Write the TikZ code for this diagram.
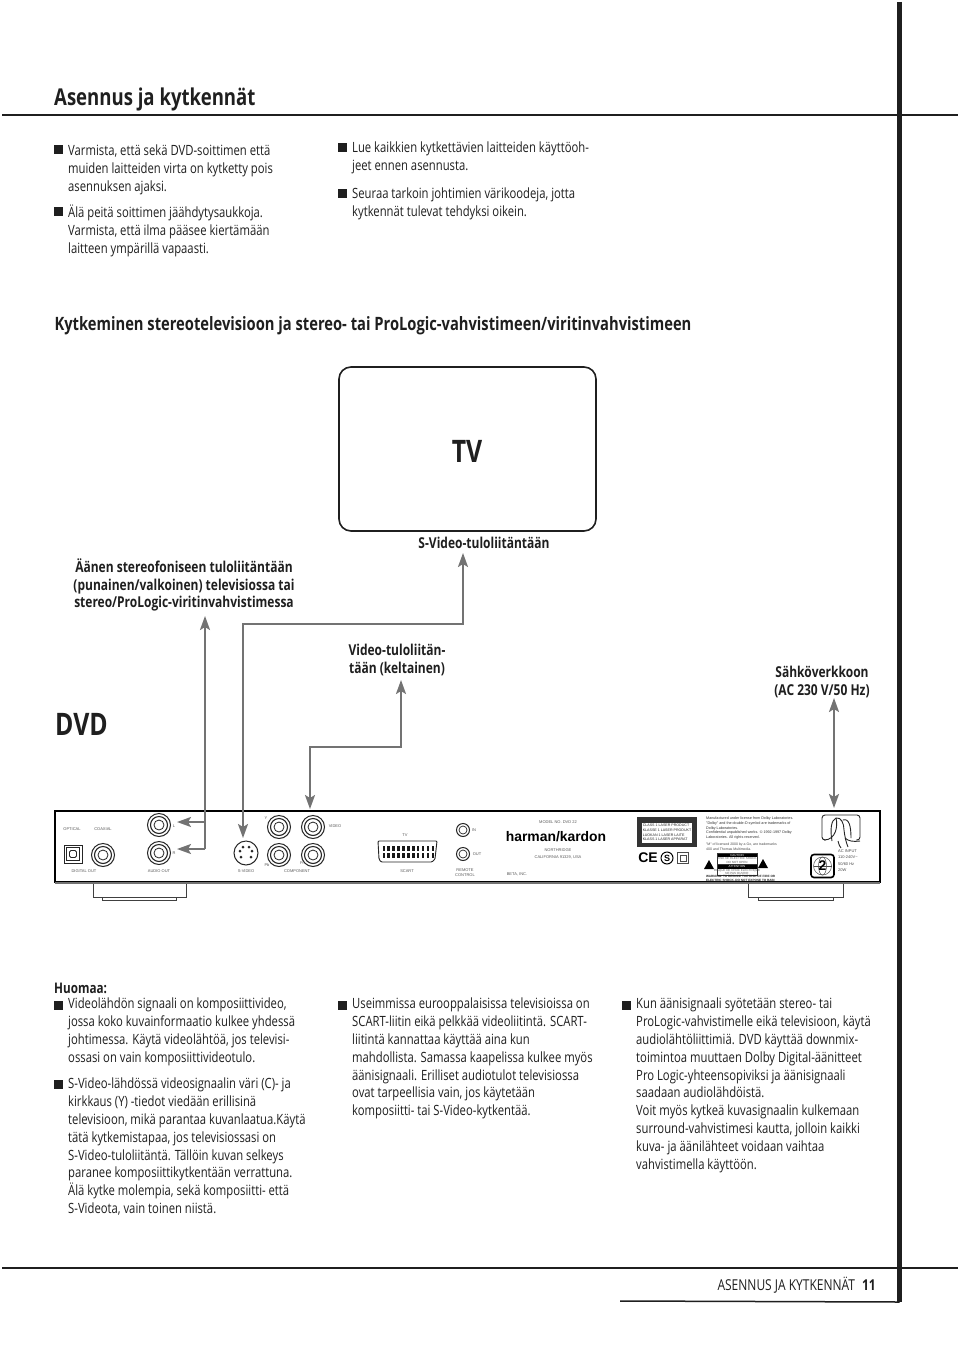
\documentclass[tikz,border=0pt]{standalone}
\usepackage{fontspec}
\setmainfont{Open Sans}[FakeStretch=0.8]
\newfontfamily\hkfont{Liberation Sans}
\usetikzlibrary{arrows.meta}
\definecolor{ink}{gray}{0.12}
\definecolor{conn}{gray}{0.45}
\tikzset{
  bodytxt/.style={anchor=north west,inner sep=0pt,align=left,text=ink,font=\fontsize{14.1}{17.8}\selectfont},
  labeltxt/.style={anchor=center,inner sep=0pt,align=center,text=ink,font=\bfseries\fontsize{15}{17.6}\selectfont},
  bullet/.style={rectangle,fill=ink,minimum size=9pt,inner sep=0pt},
  rule/.style={draw=ink,line width=1.5pt},
  wire/.style={draw=conn,line width=2pt,line join=miter},
  tip/.style={-{Stealth[length=14pt,width=10pt,inset=3pt]}},
  bitip/.style={{Stealth[length=14pt,width=10pt,inset=3pt]}-{Stealth[length=14pt,width=10pt,inset=3pt]}},
  tiny/.style={inner sep=0pt,align=center,text=black!65,font=\hkfont\fontsize{4}{5}\selectfont},
  jackbase/.style={circle,draw=black!85,line width=1pt,inner sep=0pt,fill=white},
}
\newcommand{\rcajack}[3]{%
  \node[jackbase,minimum size=23pt] (#1) at (#2,#3) {};
  \draw[black!85,line width=1.1pt] (#1) circle[radius=8.5pt];
  \draw[black!85,line width=0.8pt] (#1) circle[radius=5pt];
}
\begin{document}
\begin{tikzpicture}[x=1pt,y=-1pt]
\useasboundingbox (0,0) rectangle (960,1356);
\fill[white] (0,0) rectangle (960,1356);

% page furniture
\coordinate (ruleTopL) at (2,115);
\coordinate (ruleTopR) at (958,115);
\coordinate (ruleBotL) at (2,1268);
\coordinate (ruleBotR) at (958,1268);
\coordinate (footL) at (620,1301);
\coordinate (barT) at (899.5,2);
\coordinate (barB) at (899.5,1302);
\draw[rule] (ruleTopL) -- (ruleTopR);
\draw[rule] (ruleBotL) -- (ruleBotR);
\draw[rule] (footL) -- (barB);
\draw[ink,line width=5pt] (barT) -- (barB);

\node[anchor=west,inner sep=0pt,text=ink,font=\bfseries\fontsize{23.2}{26}\selectfont] (title) at (54,99) {Asennus ja kytkennät};

% top text
\node[bullet] (b1) at (58.5,150) {};
\node[bodytxt] (t1) at (68,145) {Varmista, että sekä DVD-soittimen että\\muiden laitteiden virta on kytketty pois\\asennuksen ajaksi.};
\node[bullet] (b2) at (58.5,212) {};
\node[bodytxt] (t2) at (68,205) {Älä peitä soittimen jäähdytysaukkoja.\\Varmista, että ilma pääsee kiertämään\\laitteen ympärillä vapaasti.};
\node[bullet] (b3) at (342.5,148) {};
\node[bodytxt] (t3) at (352,142) {Lue kaikkien kytkettävien laitteiden käyttöoh-\\jeet ennen asennusta.};
\node[bullet] (b4) at (342.5,194) {};
\node[bodytxt] (t4) at (352,188) {Seuraa tarkoin johtimien värikoodeja, jotta\\kytkennät tulevat tehdyksi oikein.};

\node[inner sep=0pt,text=ink,font=\bfseries\fontsize{18.4}{20}\selectfont] (heading) at (373,326) {Kytkeminen stereotelevisioon ja stereo- tai ProLogic-vahvistimeen/viritinvahvistimeen};

% TV
\draw[ink,line width=1.6pt,rounded corners=12pt] (339,367) rectangle (596,531);
\node[inner sep=0pt,text=ink,font=\bfseries\fontsize{31}{33}\selectfont] (tv) at (467,451) {TV};

% labels
\node[labeltxt] (lblS) at (484,543) {S-Video-tuloliitäntään};
\node[labeltxt] (lblA) at (184,585) {Äänen stereofoniseen tuloliitäntään\\(punainen/valkoinen) televisiossa tai\\stereo/ProLogic-viritinvahvistimessa};
\node[labeltxt] (lblV) at (397,660) {Video-tuloliitän-\\tään (keltainen)};
\node[labeltxt] (lblM) at (822,682) {Sähköverkkoon\\(AC 230 V/50 Hz)};
\node[anchor=west,inner sep=0pt,text=ink,font=\bfseries\fontsize{31}{33}\selectfont] (dvd) at (55,724) {DVD};

% panel feet and body
\draw[black!75,line width=0.8pt,fill=white] (93,882) -- (93,897) -- (186,897) -- (186,882);
\draw[black!75,line width=0.8pt] (102,897) -- (102,900) -- (176,900) -- (176,897);
\draw[black!75,line width=0.8pt,fill=white] (748,882) -- (748,897) -- (843,897) -- (843,882);
\draw[black!75,line width=0.8pt] (758,897) -- (758,900) -- (833,900) -- (833,897);
\node[draw=black,line width=1.5pt,fill=white,minimum width=825pt,minimum height=71pt,inner sep=0pt] (panel) at (467.5,846.5) {};
\draw[black!55,line width=2pt] (55,883) -- (880,883);

% jacks
\rcajack{jackL}{159}{825}
\rcajack{jackR}{159}{853}
\rcajack{jackC}{103}{855}
\rcajack{jackY}{279}{827}
\rcajack{jackVid}{313}{827}
\rcajack{jackPb}{279}{855}
\rcajack{jackPr}{313}{855}
% optical
\node[rectangle,draw=black!85,line width=1pt,minimum size=18pt,inner sep=0pt] (opt) at (73,854) {};
\node[rectangle,draw=black!85,line width=1.2pt,minimum size=13pt,inner sep=0pt] (optin) at (73,854) {};
\draw[black!85,line width=0.8pt,rounded corners=1.5pt] (69.5,850.5) rectangle (76.5,857.5);
% s-video
\node[jackbase,minimum size=24pt] (jackS) at (246,853) {};
\foreach \dx/\dy in {-6/-2,-3/-6,3/-6,6/-2,-5/4,5/4}{\fill[black!85] (246+\dx,853+\dy) circle[radius=1.5pt];}
% remote
\node[jackbase,minimum size=13pt] (jackIn) at (463,830) {};
\draw[black!85,line width=0.7pt] (jackIn) circle[radius=4pt];
\node[jackbase,minimum size=13pt] (jackOut) at (463,854) {};
\draw[black!85,line width=0.7pt] (jackOut) circle[radius=4pt];
% scart
\draw[black!85,line width=0.9pt,fill=white,rounded corners=1pt] (378,841) -- (437,841) -- (435,859) -- (432,862) -- (381,862) -- (379,859) -- cycle;
\foreach \i in {0,...,10}{
  \fill[black!90] (382.5+4.9*\i,845.5) rectangle +(2.6,5);
  \fill[black!90] (382.5+4.9*\i,853) rectangle +(2.6,5);
}

% panel tiny labels
\node[tiny] (p1) at (72,829) {OPTICAL};
\node[tiny] (p2) at (103,829) {COAXIAL};
\node[tiny] (p3) at (84,871) {DIGITAL OUT};
\node[tiny] (p4) at (159,871) {AUDIO OUT};
\node[tiny] (p5) at (174,826) {L};
\node[tiny] (p6) at (174,853) {R};
\node[tiny] (p7) at (246,871) {S-VIDEO};
\node[tiny] (p8) at (297,871) {COMPONENT};
\node[tiny] (p9) at (266,818) {Y};
\node[tiny] (p10) at (267,865) {Pb};
\node[tiny] (p11) at (302,863) {Pr};
\node[tiny] (p12) at (335,826) {VIDEO};
\node[tiny] (p13) at (405,835) {TV};
\node[tiny] (p14) at (407,871) {SCART};
\node[tiny] (p15) at (474,830) {IN};
\node[tiny] (p16) at (477,854) {OUT};
\node[tiny] (p17) at (465,873) {REMOTE\\CONTROL};
\node[tiny] (p18) at (558,822) {MODEL NO. DVD 22};
\node[inner sep=0pt,text=black,font=\hkfont\bfseries\fontsize{13.9}{16}\selectfont] (hk) at (556,837) {harman/kardon};
\node[tiny] (p19) at (558,850) {NORTHRIDGE};
\node[tiny] (p20) at (558,857) {CALIFORNIA 91329, USA};
\node[tiny] (p21) at (517,874) {BETA, INC.};

% laser label
\node[fill=black!80,minimum width=60pt,minimum height=30pt,inner sep=0pt] (laser) at (667,832) {};
\node[fill=white,minimum width=50pt,minimum height=20pt,inner sep=0pt,align=left,text=black!85,font=\hkfont\fontsize{3.6}{4.6}\selectfont] (lasertxt) at (667,832.5) {CLASS 1 LASER PRODUCT\\KLASSE 1 LASER PRODUKT\\LUOKAN 1 LASER LAITE\\KLASS 1 LASER APPARAT};
\node[inner sep=0pt,text=black,font=\hkfont\bfseries\fontsize{14}{15}\selectfont] (ce) at (648,858) {CE};
\node[circle,draw=black,line width=1pt,minimum size=12pt,inner sep=0pt,font=\hkfont\bfseries\fontsize{9}{10}\selectfont] (smark) at (667,858) {S};
\node[draw=black!70,line width=0.8pt,minimum size=11pt,inner sep=0pt] (dsq) at (683,858) {};
\node[draw=black!70,line width=0.7pt,minimum size=6pt,inner sep=0pt] (dsqi) at (683,858) {};

% dolby text
\node[anchor=north west,inner sep=0pt,align=left,text=black!80,font=\hkfont\fontsize{3.7}{4.7}\selectfont] (dolby) at (706,817) {Manufactured under license from Dolby Laboratories.\\"Dolby" and the double-D symbol are trademarks of\\Dolby Laboratories.\\Confidential unpublished works. © 1992-1997 Dolby\\Laboratories. All rights reserved.};
\node[anchor=north west,inner sep=0pt,align=left,text=black!70,font=\hkfont\fontsize{3.5}{4.6}\selectfont] (dolby2) at (706,843) {"M" of licensed 2000 by a Go, are trademarks\\400 and Thomas Multimedia.};
% caution
\fill[black] (709,860) -- (714,869) -- (704,869) -- cycle;
\fill[black] (763,859) -- (768,868) -- (758,868) -- cycle;
\node[fill=black,text=white,minimum width=40pt,minimum height=4pt,inner sep=0pt,font=\hkfont\fontsize{3}{3.5}\selectfont] (cau) at (737,855) {CAUTION};
\node[tiny,font=\hkfont\fontsize{3}{3.6}\selectfont] (cautxt) at (737,860.5) {RISK OF ELECTRIC SHOCK\\DO NOT OPEN};
\draw[black!80,line width=0.5pt] (717,853) rectangle (757,864);
\node[fill=black,text=white,minimum width=40pt,minimum height=4pt,inner sep=0pt,font=\hkfont\fontsize{3}{3.5}\selectfont] (att) at (737,866.5) {ATTENTION};
\node[tiny,font=\hkfont\fontsize{3}{3.6}\selectfont] (atttxt) at (737,872) {RISQUE DE CHOC ELECTRIQUE\\NE PAS OUVRIR};
\draw[black!80,line width=0.5pt] (717,864.5) rectangle (757,875);
\node[anchor=north west,inner sep=0pt,align=left,text=black!85,font=\hkfont\bfseries\fontsize{3.1}{4}\selectfont] (warn) at (706,875.3) {WARNING: TO REDUCE THE RISK OF FIRE OR\\ELECTRIC SHOCK, DO NOT EXPOSE TO RAIN};

% mains socket and cord
\draw[black!85,line width=0.9pt,fill=white,rounded corners=3pt] (822,815) rectangle (860,840);
\draw[white,line width=3pt] (826,840) -- (856,840);
\draw[black!85,line width=0.9pt] (832,841) .. controls (830,830) and (831,820) .. (836,818) .. controls (841,817) and (844,823) .. (844,830) .. controls (845,838) and (846,842) .. (848,847);
\draw[black!85,line width=0.9pt] (824,840) .. controls (836,840) and (838,826) .. (836,818);
\draw[black!85,line width=0.9pt] (843,820) .. controls (849,818) and (851,826) .. (851,838);
\draw[black!85,line width=0.9pt] (838,841) .. controls (839,845) and (840,847) .. (841,848);
\draw[black!85,line width=0.9pt] (845,838) .. controls (848,841) and (853,842) .. (860,841);
% region mark
\node[rectangle,draw=black,line width=1.6pt,rounded corners=3pt,minimum size=23pt,inner sep=0pt] (region) at (822.5,866) {};
\draw[black!70,line width=0.5pt] (region) circle[radius=9pt];
\draw[black!70,line width=0.5pt] (region) ellipse[x radius=4pt,y radius=9pt];
\draw[black!70,line width=0.5pt] (813.5,866) -- (831.5,866);
\node[inner sep=0pt,text=black,font=\hkfont\bfseries\fontsize{14}{15}\selectfont] (two) at (822.5,866) {2};
\node[anchor=north west,inner sep=0pt,align=left,text=black!70,font=\hkfont\fontsize{4}{6.6}\selectfont] (acin) at (838,849) {AC INPUT\\110-240V\textasciitilde\\50/60 Hz\\20W};

% connectors
\coordinate (sTop) at (463,553);
\coordinate (sK1) at (463,624);
\coordinate (sK2) at (243,624);
\coordinate (sEnd) at (243,838);
\draw[wire,bitip] (sEnd) -- (sK2) -- (sK1) -- (sTop);

\coordinate (aTop) at (205,616);
\coordinate (aJ1) at (205,822);
\coordinate (aJ2) at (205,849);
\coordinate (aL) at (177,822);
\coordinate (aR) at (177,849);
\draw[wire,tip] (aJ2) -- (aTop);
\draw[wire,tip] (aJ1) -- (aL);
\draw[wire,tip] (aJ2) -- (aR);

\coordinate (vTop) at (401,680);
\coordinate (vK1) at (401,747);
\coordinate (vK2) at (310,747);
\coordinate (vEnd) at (310,809);
\draw[wire,bitip] (vTop) -- (vK1) -- (vK2) -- (vEnd);

\coordinate (mTop) at (834,698);
\coordinate (mEnd) at (834,808);
\draw[wire,bitip] (mTop) -- (mEnd);

% bottom text
\node[anchor=west,inner sep=0pt,text=ink,font=\bfseries\fontsize{14.6}{17}\selectfont] (huom) at (54,988) {Huomaa:};
\node[bullet] (b5) at (58.5,1005) {};
\node[bodytxt] (t5) at (68,998) {Videolähdön signaali on komposiittivideo,\\jossa koko kuvainformaatio kulkee yhdessä\\johtimessa. Käytä videolähtöä, jos televisi-\\ossasi on vain komposiittivideotulo.};
\node[bullet] (b6) at (58.5,1084) {};
\node[bodytxt] (t6) at (68,1078) {S-Video-lähdössä videosignaalin väri (C)- ja\\kirkkaus (Y) -tiedot viedään erillisinä\\televisioon, mikä parantaa kuvanlaatua.Käytä\\tätä kytkemistapaa, jos televisiossasi on\\S-Video-tuloliitäntä. Tällöin kuvan selkeys\\paranee komposiittikytkentään verrattuna.\\Älä kytke molempia, sekä komposiitti- että\\S-Videota, vain toinen niistä.};
\node[bullet] (b7) at (342.5,1005) {};
\node[bodytxt] (t7) at (352,998) {Useimmissa eurooppalaisissa televisioissa on\\SCART-liitin eikä pelkkää videoliitintä. SCART-\\liitintä kannattaa käyttää aina kun\\mahdollista. Samassa kaapelissa kulkee myös\\äänisignaali. Erilliset audiotulot televisiossa\\ovat tarpeellisia vain, jos käytetään\\komposiitti- tai S-Video-kytkentää.};
\node[bullet] (b8) at (626.5,1005) {};
\node[bodytxt] (t8) at (636,998) {Kun äänisignaali syötetään stereo- tai\\ProLogic-vahvistimelle eikä televisioon, käytä\\audiolähtöliittimiä. DVD käyttää downmix-\\toimintoa muuttaen Dolby Digital-äänitteet\\Pro Logic-yhteensopiviksi ja äänisignaali\\saadaan audiolähdöistä.\\Voit myös kytkeä kuvasignaalin kulkemaan\\surround-vahvistimesi kautta, jolloin kaikki\\kuva- ja äänilähteet voidaan vaihtaa\\vahvistimella käyttöön.};

\node[anchor=east,inner sep=0pt,text=ink,font=\fontsize{15}{17}\selectfont] (foot) at (876,1285) {ASENNUS JA KYTKENNÄT\hspace{7pt}\textbf{11}};
\end{tikzpicture}
\end{document}
